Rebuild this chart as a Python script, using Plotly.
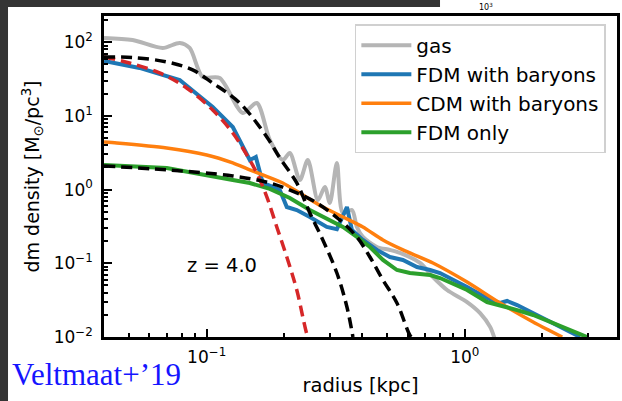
import plotly.graph_objects as go

# ---------------- data (radius in kpc, density in Msun/pc^3) ----------------
gas_r = [0.04, 0.0516, 0.0675, 0.0786, 0.0859, 0.0965, 0.1123, 0.138, 0.1563, 0.1756,
         0.1972, 0.2099, 0.2296, 0.2465, 0.2696, 0.287, 0.300, 0.3195, 0.3372, 0.3654,
         0.382, 0.403, 0.4566, 0.513, 0.561, 0.671, 0.753, 0.854, 1.021, 1.147, 1.254, 1.311]
gas_rho = [114, 107, 83.4, 97.5, 83.4, 33.7, 32.7, 10.95, 14.96, 4.71,
           2.52, 3.14, 1.35, 2.52, 0.723, 1.085, 0.658, 2.30, 0.481, 0.528,
           0.311, 0.2275, 0.1665, 0.1517, 0.138, 0.101, 0.0652, 0.0434, 0.0298, 0.0211, 0.0137, 0.0091]

fdmb_r = [0.04, 0.0549, 0.0786, 0.1055, 0.1262, 0.138, 0.1469, 0.155, 0.1606, 0.1649,
          0.1803, 0.192, 0.2044, 0.2234, 0.251, 0.2745, 0.292, 0.3195, 0.3372, 0.3495,
          0.3654, 0.403, 0.4566, 0.513, 0.576, 0.653, 0.734, 0.802, 1.021, 1.22, 1.371,
          1.459, 1.596, 1.841, 2.143, 2.495, 2.802]
fdmb_rho = [55.6, 44.7, 30.7, 13.2, 7.06, 3.78, 2.52, 2.77, 1.68, 1.23,
            1.085, 0.989, 0.580, 0.528, 0.425, 0.352, 0.311, 0.29, 0.45, 0.58,
            0.283, 0.207, 0.1517, 0.1217, 0.111, 0.0891, 0.0811, 0.0738, 0.0476, 0.0338, 0.0289,
            0.0308, 0.0271, 0.0211, 0.016, 0.0125, 0.01]

cdmb_r = [0.04, 0.0448, 0.070, 0.1, 0.1262, 0.1469, 0.1649, 0.1972, 0.2358, 0.2819,
          0.3372, 0.403, 0.482, 0.576, 0.753, 1.021, 1.371, 1.841, 2.386]
cdmb_rho = [4.42, 4.29, 3.67, 2.95, 2.30, 1.85, 1.58, 1.23, 0.845, 0.580,
            0.425, 0.311, 0.207, 0.1517, 0.101, 0.0557, 0.0289, 0.016, 0.01]

fdm_r = [0.04, 0.070, 0.1262, 0.1469, 0.1756, 0.2099, 0.251, 0.300, 0.3372, 0.382,
         0.429, 0.482, 0.546, 0.613, 0.734, 0.802, 1.021, 1.22, 1.371, 1.596, 1.841,
         2.201, 2.632, 2.983]
fdm_rho = [2.16, 1.96, 1.35, 1.23, 1.02, 0.769, 0.528, 0.387, 0.311, 0.2275,
           0.1665, 0.111, 0.0811, 0.0738, 0.0694, 0.0631, 0.0434, 0.0298, 0.0271, 0.0232, 0.0199,
           0.0155, 0.0117, 0.01]

# soliton fits (dashed)
sol_narrow_r = [0.04, 0.0502, 0.0657, 0.0836, 0.1055, 0.1262, 0.143, 0.1563, 0.171, 0.1869,
                0.2044, 0.2234, 0.2465, 0.251]
sol_narrow_rho = [63, 52.2, 38.2, 23.9, 12.0, 5.86, 2.95, 1.68, 0.794, 0.311,
                  0.1217, 0.0434, 0.01, 0.0091]

sol_wide_r = [0.04, 0.0516, 0.070, 0.0882, 0.1055, 0.1343, 0.171, 0.192, 0.2234, 0.251,
              0.2819, 0.3195, 0.3495, 0.3687]
sol_wide_rho = [63, 61.9, 53.9, 42.0, 27.9, 14.96, 5.17, 2.69, 1.23, 0.481,
                0.207, 0.0738, 0.0255, 0.01]

sol_fdm_r = [0.04, 0.070, 0.1262, 0.1756, 0.2234, 0.2672, 0.328, 0.382, 0.429, 0.482,
             0.546, 0.613, 0.624]
sol_fdm_rho = [2.09, 1.85, 1.53, 1.23, 0.90, 0.658, 0.387, 0.2275, 0.1217, 0.0593,
               0.0289, 0.0106, 0.01]

y_tickvals = [0.01, 0.1, 1, 10, 100]
y_ticktext = ["10<sup>−2</sup>", "10<sup>−1</sup>", "10<sup>0</sup>", "10<sup>1</sup>", "10<sup>2</sup>"]
x_tickvals = [0.1, 1]
x_ticktext = ["10<sup>−1</sup>", "10<sup>0</sup>"]

# ---------------- figure ----------------
FONT = "DejaVu Sans"
fig = go.Figure()

fig.add_trace(go.Scatter(x=gas_r, y=gas_rho, mode="lines", name="gas",
                         line=dict(color="#b5b5b5", width=4, shape="spline", smoothing=0.8)))
fig.add_trace(go.Scatter(x=fdmb_r, y=fdmb_rho, mode="lines", name="FDM with baryons",
                         line=dict(color="#1f77b4", width=4)))
fig.add_trace(go.Scatter(x=cdmb_r, y=cdmb_rho, mode="lines", name="CDM with baryons",
                         line=dict(color="#ff7f0e", width=3.5, shape="spline", smoothing=0.6)))
fig.add_trace(go.Scatter(x=fdm_r, y=fdm_rho, mode="lines", name="FDM only",
                         line=dict(color="#2ca02c", width=4)))
fig.add_trace(go.Scatter(x=sol_narrow_r, y=sol_narrow_rho, mode="lines", showlegend=False,
                         line=dict(color="#d62728", width=3.5, dash="11px,6px", shape="spline")))
fig.add_trace(go.Scatter(x=sol_wide_r, y=sol_wide_rho, mode="lines", showlegend=False,
                         line=dict(color="black", width=3.5, dash="11px,6px", shape="spline")))
fig.add_trace(go.Scatter(x=sol_fdm_r, y=sol_fdm_rho, mode="lines", showlegend=False,
                         line=dict(color="black", width=3.5, dash="11px,6px", shape="spline")))

minor_y = [m * 10.0 ** e for e in range(-2, 3) for m in range(2, 10)]
minor_x = [m * 10.0 ** e for e in range(-2, 1) for m in range(2, 10)]

fig.update_xaxes(type="log", range=[-1.398, 0.59],
                 tickmode="array", tickvals=x_tickvals, ticktext=x_ticktext,
                 ticks="inside", ticklen=8, tickwidth=2.2, tickcolor="black",
                 showline=True, linewidth=2.5, linecolor="black", mirror=True,
                 showgrid=False, zeroline=False, ticklabelstandoff=3,
                 tickfont=dict(family=FONT, size=17, color="black"),
                 minor=dict(tickmode="array", tickvals=minor_x, ticks="inside",
                            ticklen=4.5, tickwidth=1.5, tickcolor="black", showgrid=False),
                 title=dict(text="radius [kpc]", font=dict(family=FONT, size=19.5, color="black"),
                            standoff=13))
fig.update_yaxes(type="log", range=[-2, 2.355],
                 tickmode="array", tickvals=y_tickvals, ticktext=y_ticktext,
                 ticks="inside", ticklen=8, tickwidth=2.2, tickcolor="black",
                 showline=True, linewidth=2.5, linecolor="black", mirror=True,
                 showgrid=False, zeroline=False, ticklabelstandoff=5,
                 tickfont=dict(family=FONT, size=17, color="black"),
                 minor=dict(tickmode="array", tickvals=minor_y, ticks="inside",
                            ticklen=4.5, tickwidth=1.5, tickcolor="black", showgrid=False),
                 title=dict(text="dm density [M<sub>⊙</sub>/pc<sup>3</sup>]",
                            font=dict(family=FONT, size=19, color="black"), standoff=10))

# dark slide background strips around the white figure
DARK = "#343434"
shapes = [
    dict(type="rect", xref="paper", yref="paper", x0=-0.21, x1=-0.1871, y0=-0.21, y1=1.06,
         fillcolor=DARK, line=dict(width=0), layer="above"),
    dict(type="rect", xref="paper", yref="paper", x0=-0.21, x1=0.655, y0=1.028, y1=1.06,
         fillcolor=DARK, line=dict(width=0), layer="above"),
]

fig.update_layout(
    width=622, height=401,
    margin=dict(l=104, r=5, t=16, b=64, autoexpand=False),
    paper_bgcolor="white", plot_bgcolor="white",
    font=dict(family=FONT, color="black"),
    shapes=shapes,
    legend=dict(x=0.489, y=0.974, xanchor="left", yanchor="top",
                font=dict(family=FONT, size=20, color="black"),
                bgcolor="rgba(255,255,255,0.85)", bordercolor="#d0d0d0", borderwidth=1.5,
                itemwidth=50, tracegroupgap=0),
    annotations=[
        dict(text="z = 4.0", xref="paper", yref="paper", x=0.158, y=0.1807,
             showarrow=False, font=dict(family=FONT, size=19.5, color="black")),
        dict(text="Veltmaat+’19", xref="paper", yref="paper", x=-0.1832, y=-0.1153,
             xanchor="left", yanchor="middle", showarrow=False,
             font=dict(family="Liberation Serif", size=31, color="#1515ff")),
        dict(text="10<sup>3</sup>", xref="paper", yref="paper", x=0.745, y=1.0498,
             xanchor="center", yanchor="top", showarrow=False,
             font=dict(family=FONT, size=8, color="black")),
    ],
)

fig.write_html("out.html")
